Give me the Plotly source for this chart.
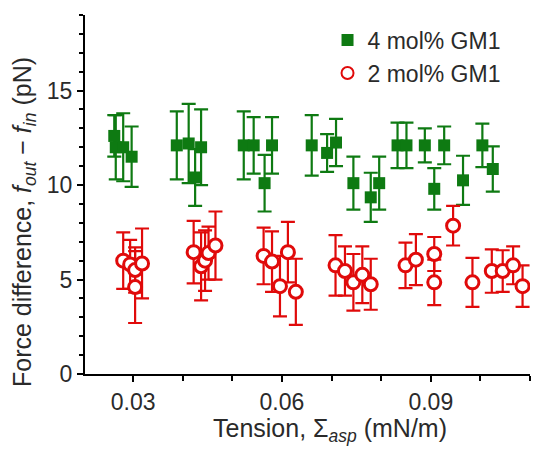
import plotly.graph_objects as go

# 4 mol% GM1
green_x = [0.0262, 0.0265, 0.0280, 0.0297, 0.0388, 0.0412, 0.0425, 0.0437, 0.0523, 0.0543,
           0.0565, 0.0580, 0.0660, 0.0691, 0.0709, 0.0744, 0.0779, 0.0796, 0.0833, 0.0851,
           0.0888, 0.0907, 0.0927, 0.0965, 0.1004, 0.1025]
green_y = [12.6, 12.0, 12.0, 11.5, 12.1, 12.2, 10.4, 12.0, 12.1, 12.1,
           10.1, 12.1, 12.1, 11.7, 12.25, 10.1, 9.35, 10.1, 12.1, 12.1,
           12.1, 9.8, 12.1, 10.25, 12.1, 10.85]
green_err = [1.1, 1.7, 1.8, 1.6, 1.8, 2.1, 1.5, 2.0, 1.8, 1.5,
             1.5, 1.5, 1.6, 1.0, 1.25, 1.4, 1.3, 1.4, 1.2, 1.2,
             0.9, 1.1, 1.0, 1.3, 1.15, 1.2]

# 2 mol% GM1
red_x = [0.0280, 0.0294, 0.0304, 0.0318, 0.0304, 0.0422, 0.0437, 0.0445, 0.0452, 0.0466,
         0.0563, 0.0580, 0.0596, 0.0612, 0.0628, 0.0708, 0.0727, 0.0744, 0.0762, 0.0779,
         0.0849, 0.0870, 0.0907, 0.0907, 0.0945, 0.0984, 0.1023, 0.1045, 0.1066, 0.1085]
red_y = [6.0, 5.8, 5.5, 5.85, 4.6, 6.45, 5.7, 6.0, 6.4, 6.8,
         6.25, 5.95, 4.65, 6.45, 4.35, 5.75, 5.45, 4.85, 5.25, 4.75,
         5.75, 6.05, 6.35, 4.85, 7.85, 4.85, 5.45, 5.45, 5.75, 4.65]
red_err = [1.5, 1.3, 1.2, 1.85, 1.9, 1.65, 1.8, 1.6, 1.4, 1.8,
           1.5, 1.6, 1.6, 1.6, 1.75, 1.6, 1.3, 1.5, 1.5, 1.35,
           1.2, 1.35, 0.9, 1.2, 1.05, 1.3, 1.15, 1.1, 1.0, 1.1]

x_tickvals = [0.03, 0.06, 0.09]
x_ticktext = ["0.03", "0.06", "0.09"]
y_tickvals = [0, 5, 10, 15]

GREEN = "#0e7a12"
RED = "#e00a0a"
FONT = "Liberation Sans, Arial, sans-serif"
TXT = "#2a2a2a"

fig = go.Figure()
fig.add_trace(go.Scatter(
    x=green_x, y=green_y, mode="markers", name="4 mol% GM1",
    marker=dict(symbol="square", size=12, color=GREEN),
    error_y=dict(type="data", array=green_err, visible=True, color=GREEN, thickness=2.2, width=7),
))
fig.add_trace(go.Scatter(
    x=red_x, y=red_y, mode="markers", name="2 mol% GM1",
    marker=dict(symbol="circle", size=13, color="white", line=dict(color=RED, width=3)),
    error_y=dict(type="data", array=red_err, visible=True, color=RED, thickness=2.2, width=7),
))

fig.update_layout(
    width=533, height=450,
    margin=dict(l=85, r=3, t=15, b=76),
    paper_bgcolor="white", plot_bgcolor="white",
    font=dict(family=FONT, size=23, color=TXT),
    showlegend=True,
    legend=dict(x=0.545, y=0.99, xanchor="left", yanchor="top",
                font=dict(family=FONT, size=23, color=TXT),
                bgcolor="rgba(0,0,0,0)", tracegroupgap=0, itemsizing="constant"),
)
fig.update_xaxes(
    range=[0.0203, 0.11], showgrid=False, zeroline=False,
    showline=True, linecolor="black", linewidth=2,
    ticks="outside", ticklen=6, tickwidth=2, tickcolor="black",
    tickvals=x_tickvals, ticktext=x_ticktext,
    minor=dict(dtick=0.01, tick0=0.0, ticks="outside", ticklen=5, tickwidth=2, tickcolor="black"),
    tickfont=dict(family=FONT, size=23, color=TXT),
)
fig.update_yaxes(
    range=[0, 19], showgrid=False, zeroline=False,
    showline=True, linecolor="black", linewidth=2,
    ticks="outside", ticklen=6, tickwidth=2, tickcolor="black",
    tickvals=y_tickvals,
    minor=dict(dtick=1, tick0=0, ticks="outside", ticklen=4, tickwidth=2, tickcolor="black"),
    tickfont=dict(family=FONT, size=23, color=TXT),
)
fig.add_annotation(
    text="Tension, Σ<sub><i>asp</i></sub> (mN/m)", xref="paper", yref="paper",
    x=(330 - 85) / 445, y=-(430 - 374) / 359, xanchor="center", yanchor="middle",
    showarrow=False, font=dict(family=FONT, size=25, color=TXT),
)
fig.add_annotation(
    text="Force difference, <i>f</i><sub><i>out</i></sub> − <i>f</i><sub><i>in</i></sub> (pN)",
    xref="paper", yref="paper", textangle=-90,
    x=-(85 - 24) / 445, y=(374 - 222) / 359, xanchor="center", yanchor="middle",
    showarrow=False, font=dict(family=FONT, size=25, color=TXT),
)
fig.write_html("out.html")
